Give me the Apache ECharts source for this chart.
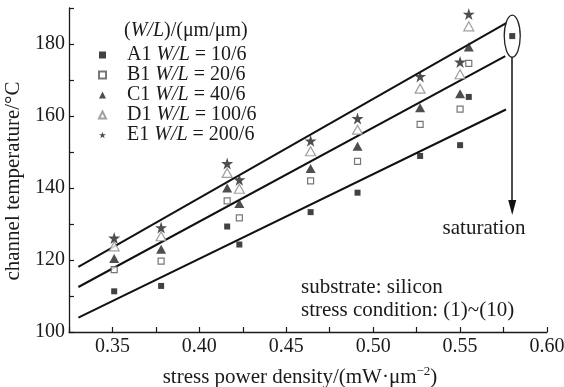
<!DOCTYPE html>
<html><head><meta charset="utf-8">
<script src="https://cdn.jsdelivr.net/npm/echarts@6/dist/echarts.min.js"></script>
<style>html,body{margin:0;padding:0;background:#fff}#c{width:564px;height:387px}</style>
</head><body><div id="c"></div>
<script>
// ---- data ----
const stressDensity = [0.351, 0.378, 0.416, 0.423, 0.464, 0.491, 0.527, 0.550, 0.555];
const seriesNames = ['A1', 'B1', 'C1', 'D1', 'E1'];
const wlRatios = ['10/6', '20/6', '40/6', '100/6', '200/6'];
const tempA1 = [111.3, 112.8, 129.3, 124.3, 133.3, 138.7, 148.9, 151.9, 165.3];
const tempB1 = [117.3, 119.7, 136.4, 131.7, 142.0, 147.4, 157.7, 161.9, 174.6];
const tempC1 = [120.4, 123.0, 140.0, 135.7, 145.4, 151.6, 162.3, 166.2, 179.2];
const tempD1 = [123.8, 126.6, 144.2, 139.8, 150.2, 156.2, 167.6, 171.6, 184.9];
const tempE1 = [126.1, 129.0, 146.8, 142.3, 153.1, 159.3, 171.0, 175.0, 188.3];
const saturationPoint = [0.580, 182.2];
const fitUpper = [[0.3304, 118.1], [0.5765, 185.8]];
const fitMiddle = [[0.3304, 112.5], [0.5760, 176.6]];
const fitLower = [[0.3304, 104.0], [0.5764, 161.8]];
const saturationArrow = [[0.580, 176.4], [0.580, 134.6]];
const xTickLabels = ['0.35', '0.40', '0.45', '0.50', '0.55', '0.60'];
const yTickLabels = ['100', '120', '140', '160', '180'];

// ---- chart ----
const FONT = '"Liberation Serif", "Times New Roman", serif';
const INK = '#1a1a1a';
const starPath = 'path://M50,0 L61.2,34.5 L97.6,34.5 L68.2,55.9 L79.4,90.5 L50,69.1 L20.6,90.5 L31.8,55.9 L2.4,34.5 L38.8,34.5 Z';
const pts = vals => vals.map((v, i) => [stressDensity[i], v]);

const chart = echarts.init(document.getElementById('c'), null, {renderer: 'canvas'});
const option = {
  animation: false,
  backgroundColor: '#fff',
  textStyle: {fontFamily: FONT},
  grid: {left: 69, right: 17, top: 8, bottom: 55, containLabel: false, outerBoundsMode: 'none'},
  title: {
    text: '{n|(}{i|W/L}{n|)/(μm/μm)}',
    left: 124, top: 20, padding: 0,
    textStyle: {fontWeight: 'normal', rich: {
      n: {fontFamily: FONT, fontSize: 20, fontWeight: 'normal', color: INK, lineHeight: 22},
      i: {fontFamily: FONT, fontSize: 20, fontWeight: 'normal', color: INK, lineHeight: 22, fontStyle: 'italic'}
    }}
  },
  legend: {
    orient: 'vertical', left: 98, top: 45, padding: 0,
    itemWidth: 7, itemHeight: 7, itemGap: 0,
    data: seriesNames,
    formatter: n => `{n|${n} }{i|W/L}{n| = ${wlRatios[seriesNames.indexOf(n)]}}`,
    textStyle: {
      padding: [0, 0, 0, 16],
      rich: {
        n: {fontFamily: FONT, fontSize: 20, color: INK, lineHeight: 21},
        i: {fontFamily: FONT, fontSize: 20, color: INK, lineHeight: 21, fontStyle: 'italic'}
      }
    }
  },
  xAxis: {
    type: 'value', min: 0.325, max: 0.6, interval: 0.025,
    name: '{n|stress power density/(mW·μm}{s|−2}{n|)}',
    nameLocation: 'middle', nameGap: 33,
    nameTextStyle: {padding: [0, 16, 0, 0], rich: {
      n: {fontFamily: FONT, fontSize: 21, color: INK, lineHeight: 24},
      s: {fontFamily: FONT, fontSize: 13, color: INK, lineHeight: 24, verticalAlign: 'top'}
    }},
    axisLine: {onZero: false, lineStyle: {color: INK, width: 1.3}},
    axisTick: {inside: true, length: 5, lineStyle: {color: INK, width: 1.2}},
    axisLabel: {
      margin: 5, fontFamily: FONT, fontSize: 20, color: INK,
      formatter: v => { const s = v.toFixed(2); return xTickLabels.includes(s) ? s : ''; }
    },
    splitLine: {show: false}
  },
  yAxis: {
    type: 'value', min: 100, max: 190, interval: 10,
    name: 'channel temperature/°C',
    nameLocation: 'middle', nameGap: 26,
    nameTextStyle: {fontFamily: FONT, fontSize: 21, color: INK, padding: [0, 22, 0, 0]},
    axisLine: {show: true, onZero: false, lineStyle: {color: INK, width: 1.3}},
    axisTick: {show: true, inside: true, length: 5, lineStyle: {color: INK, width: 1.2}},
    axisLabel: {
      margin: 4, fontFamily: FONT, fontSize: 20, color: INK,
      formatter: v => { const s = String(Math.round(v)); return yTickLabels.includes(s) ? s : ''; }
    },
    splitLine: {show: false}
  },
  series: [
    {name: 'A1', type: 'scatter', data: pts(tempA1).concat([saturationPoint]),
     symbol: 'rect', symbolSize: 6, itemStyle: {color: '#111'}, z: 5},
    {name: 'B1', type: 'scatter', data: pts(tempB1),
     symbol: 'rect', symbolSize: 6, itemStyle: {color: '#fff', borderColor: '#555', borderWidth: 1.2}, z: 5},
    {name: 'C1', type: 'scatter', data: pts(tempC1),
     symbol: 'triangle', symbolSize: [10, 9], itemStyle: {color: '#222'}, z: 5},
    {name: 'D1', type: 'scatter', data: pts(tempD1),
     symbol: 'triangle', symbolSize: [10, 9], itemStyle: {color: '#fff', borderColor: '#888', borderWidth: 1.2}, z: 5},
    {name: 'E1', type: 'scatter', data: pts(tempE1),
     symbol: starPath, symbolSize: 12, itemStyle: {color: '#222'}, z: 5},
    {name: 'fitUpper', type: 'line', data: fitUpper, symbol: 'none', silent: true,
     lineStyle: {color: '#111', width: 2}},
    {name: 'fitMiddle', type: 'line', data: fitMiddle, symbol: 'none', silent: true,
     lineStyle: {color: '#111', width: 2}},
    {name: 'fitLower', type: 'line', data: fitLower, symbol: 'none', silent: true,
     lineStyle: {color: '#111', width: 2}},
    {name: 'saturation', type: 'line', data: [], silent: true,
     markLine: {
       silent: true, symbol: ['none', 'triangle'], symbolSize: [8, 15],
       label: {show: false},
       lineStyle: {color: '#111', width: 1.5, type: 'solid'},
       data: [[{coord: saturationArrow[0]}, {coord: saturationArrow[1]}]]
     }}
  ]
};
chart.setOption(option);

const c = chart.convertToPixel({seriesIndex: 0}, saturationPoint);
chart.setOption({
  graphic: [
    {type: 'ellipse', shape: {cx: c[0], cy: c[1], rx: 8, ry: 21},
     style: {fill: 'none', stroke: '#222', lineWidth: 1.3}, z: 10},
    {type: 'text', x: 484, y: 228,
     style: {text: 'saturation', font: '21px ' + FONT, fill: INK, align: 'center', verticalAlign: 'middle'}},
    {type: 'text', x: 301, y: 287,
     style: {text: 'substrate: silicon', font: '21px ' + FONT, fill: INK, align: 'left', verticalAlign: 'middle'}},
    {type: 'text', x: 301, y: 310,
     style: {text: 'stress condition: (1)~(10)', font: '21px ' + FONT, fill: INK, align: 'left', verticalAlign: 'middle'}}
  ]
});
</script>
</body></html>
